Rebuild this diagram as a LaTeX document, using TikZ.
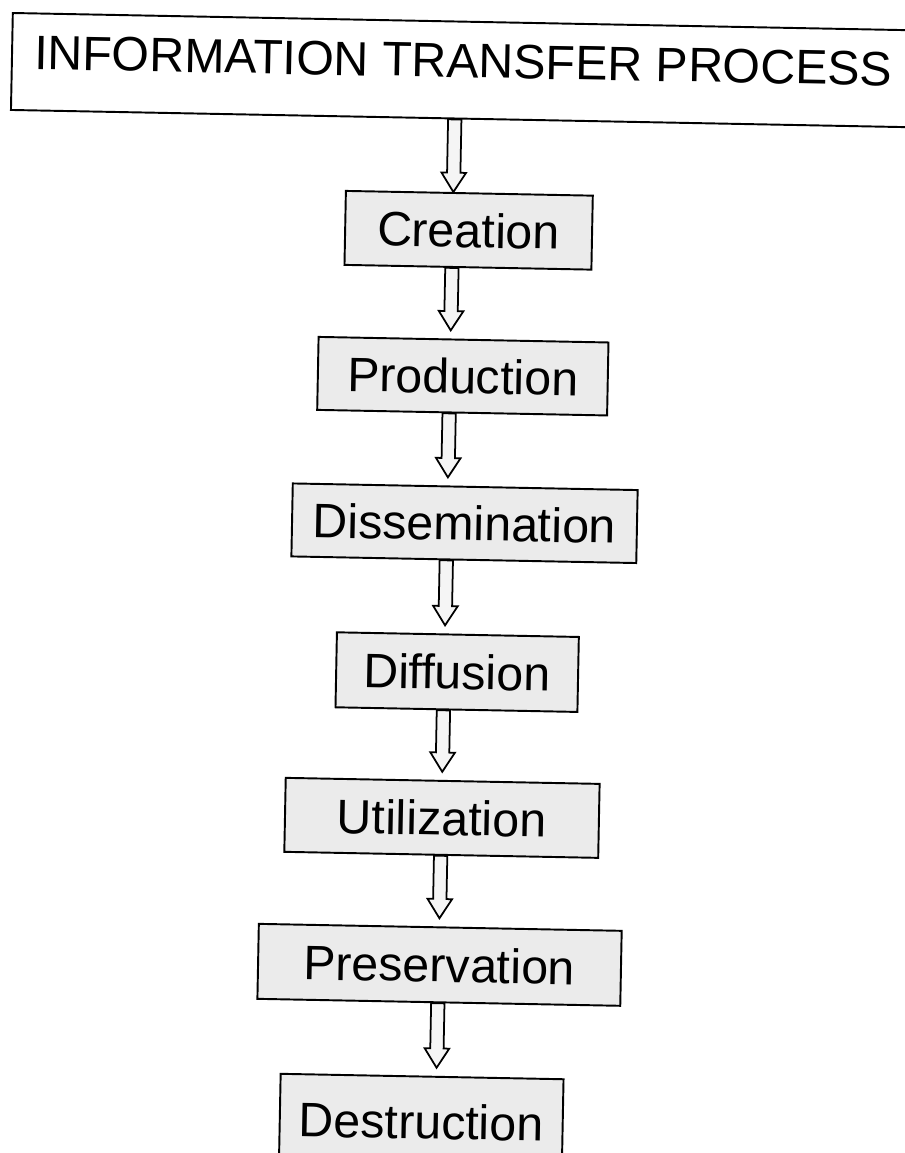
\documentclass[tikz,border=0pt]{standalone}
\usepackage{fontspec}
\setmainfont{Liberation Sans}
\usetikzlibrary{calc}
\tikzset{
  stage/.style={draw,line width=1.1pt,fill=black!8,inner sep=0pt,font=\fontsize{27.5}{32}\selectfont},
  flowarrow/.style={line width=1pt,fill=black!4,to path={let \p1=(\tikztostart), \p2=(\tikztotarget) in
    (\x1-3.8pt,\y1) -- (\x1-3.8pt,\y2+#1+11pt) -- (\x1-7pt,\y2+#1+11pt) -- (\x1,\y2+#1)
    -- (\x1+7pt,\y2+#1+11pt) -- (\x1+3.8pt,\y2+#1+11pt) -- (\x1+3.8pt,\y1) -- cycle}},
  flowarrow/.default=0pt
}
\begin{document}
\begin{tikzpicture}[x=0.02cm,y=-0.02cm]
  \useasboundingbox (0,0) rectangle (904,1153);
  \begin{scope}[transform canvas={rotate around={-1.1:(452,576)}}]
    % Title and stages
    \coordinate (axis) at (446,0);
    \node[stage,fill=white,minimum width=18.06cm,minimum height=1.94cm,text depth=0.38cm] (title) at (453.5,70) {INFORMATION TRANSFER PROCESS};
    \node[stage,minimum width=4.94cm,minimum height=1.48cm] (creation) at (462,230) {Creation};
    \node[stage,minimum width=5.80cm,minimum height=1.46cm] (production) at (459,376) {Production};
    \node[stage,minimum width=6.90cm,minimum height=1.46cm] (dissemination) at (463.5,523) {Dissemination};
    \node[stage,minimum width=4.84cm,minimum height=1.50cm] (diffusion) at (459,672) {Diffusion};
    \node[stage,minimum width=6.28cm,minimum height=1.48cm] (utilization) at (446.6,818) {Utilization};
    \node[stage,minimum width=7.26cm,minimum height=1.50cm] (preservation) at (447,965) {Preservation};
    \node[stage,minimum width=5.66cm,minimum height=1.80cm] (destruction) at (431.7,1122) {Destruction};
    % Hollow arrows between stages
    \draw[flowarrow] (title.south -| axis) to (creation.north -| axis);
    \draw[flowarrow=4.6pt] (creation.south -| axis) to (production.north -| axis);
    \draw[flowarrow=4.6pt] (production.south -| axis) to (dissemination.north -| axis);
    \draw[flowarrow=4.6pt] (dissemination.south -| axis) to (diffusion.north -| axis);
    \draw[flowarrow=4.6pt] (diffusion.south -| axis) to (utilization.north -| axis);
    \draw[flowarrow=4.6pt] (utilization.south -| axis) to (preservation.north -| axis);
    \draw[flowarrow=4.6pt] (preservation.south -| axis) to (destruction.north -| axis);
  \end{scope}
\end{tikzpicture}
\end{document}
